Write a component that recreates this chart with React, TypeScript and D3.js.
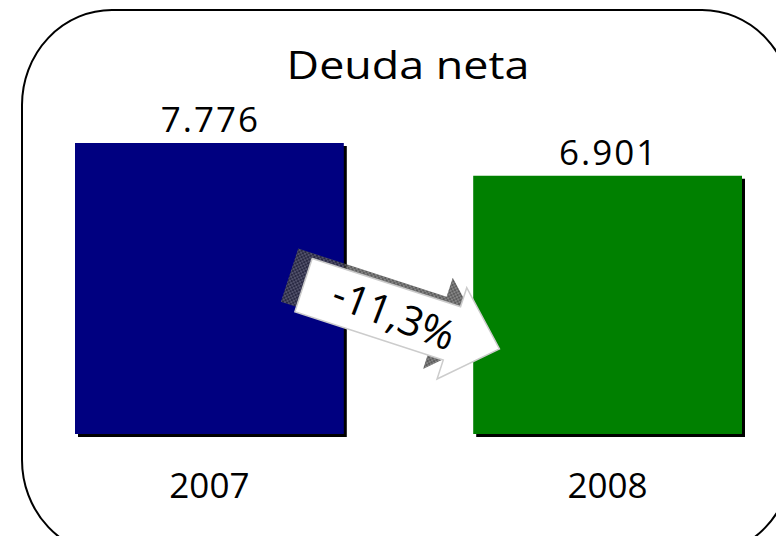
import React from "react";
import * as d3 from "d3";

const categories = ["2007", "2008"];
const values = [7776, 6901];
const valueLabels = ["7.776", "6.901"];
const barColors = ["#000080", "#008000"];
const title = "Deuda neta";
const changeLabel = "-11,3%";

const W = 776;
const H = 536;
const FONT = "'Open Sans', 'DejaVu Sans', sans-serif";

export default function App() {
  const x = d3.scaleBand<string>().domain(categories).range([75, 742]).paddingInner(0.325).paddingOuter(0);
  const y = d3.scaleLinear().domain([0, values[0]]).range([434, 143]);
  const bw = x.bandwidth();

  const x0 = (x(categories[0]) as number) + bw;
  const x1 = x(categories[1]) as number;
  const cx = (x0 + x1) / 2 - 7;
  const cy = 317;
  const angle = 18;
  const L = 206, bodyH = 28, headH = 48, headL = 50;
  const pts: [number, number][] = [
    [-L / 2, -bodyH],
    [L / 2 - headL, -bodyH],
    [L / 2 - headL, -headH],
    [L / 2, 0],
    [L / 2 - headL, headH],
    [L / 2 - headL, bodyH],
    [-L / 2, bodyH],
  ];
  const arrowPath = d3.line()(pts) + "Z";

  return (
    <svg width={W} height={H} style={{ position: "absolute", left: 0, top: 0, background: "#fff" }}>
      <defs>
        <pattern id="hatch" width="4" height="4" patternUnits="userSpaceOnUse">
          <rect width="4" height="4" fill="#666" />
          <rect width="2" height="2" fill="#333" />
          <rect x="2" y="2" width="2" height="2" fill="#333" />
        </pattern>
      </defs>
      <rect x={22} y={10} width={770} height={545} rx={90} ry={95} fill="#fff" stroke="#000" strokeWidth={2} />
      <g transform="translate(408,79) scale(1.15,1)">
        <text x={0} y={0} textAnchor="middle" fontFamily={FONT} fontSize={39} fill="#000">{title}</text>
      </g>
      {categories.map((c, i) => (
        <g key={c}>
          <rect x={(x(c) as number) + 3} y={y(values[i]) + 3} width={bw} height={y(0) - y(values[i])} fill="#000" />
          <rect x={x(c) as number} y={y(values[i])} width={bw} height={y(0) - y(values[i])} fill={barColors[i]} />
          <text x={(x(c) as number) + bw / 2 + 1} y={y(values[i]) - 11} textAnchor="middle" fontFamily={FONT} fontSize={35} letterSpacing={2} fill="#000">{valueLabels[i]}</text>
          <text x={(x(c) as number) + bw / 2} y={498} textAnchor="middle" fontFamily={FONT} fontSize={35} fill="#000">{c}</text>
        </g>
      ))}
      <g transform={`translate(${cx - 14},${cy - 10}) rotate(${angle})`}>
        <path d={arrowPath} fill="url(#hatch)" opacity={0.8} />
      </g>
      <g transform={`translate(${cx},${cy}) rotate(${angle})`}>
        <path d={arrowPath} fill="#fff" stroke="#ccc" strokeWidth={1.5} />
        <g transform="rotate(3)">
          <text x={-8} y={15} textAnchor="middle" fontFamily={FONT} fontSize={41} fill="#000">{changeLabel}</text>
        </g>
      </g>
    </svg>
  );
}
